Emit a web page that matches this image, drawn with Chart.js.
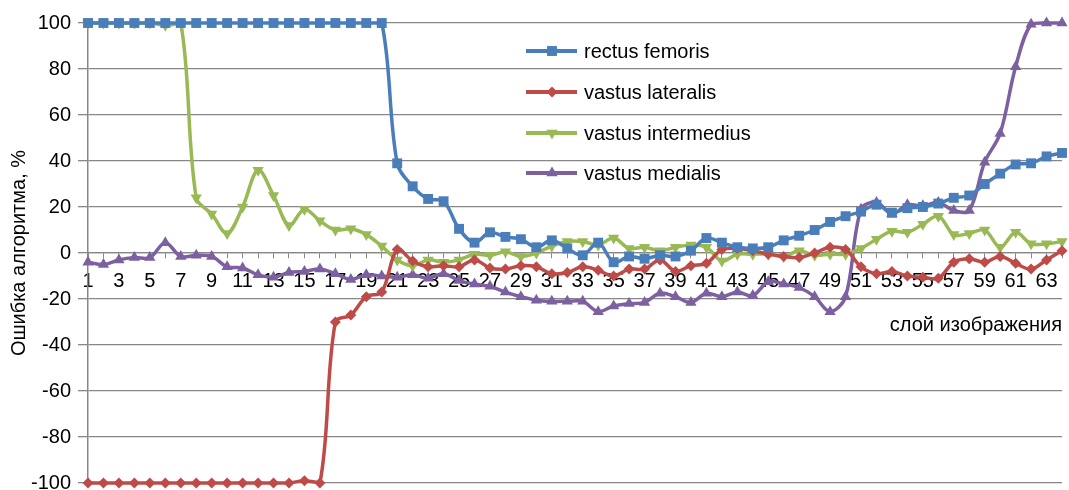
<!DOCTYPE html>
<html>
<head>
<meta charset="utf-8">
<title>Ошибка алгоритма по слоям изображения</title>
<script src="https://cdn.jsdelivr.net/npm/chart.js@4/dist/chart.umd.min.js"></script>
<style>
  html, body { margin: 0; padding: 0; background: #ffffff; }
  #wrap { width: 1069px; height: 490px; position: relative; }
</style>
</head>
<body>
<div id="wrap"><canvas id="chart" width="1069" height="490"></canvas></div>
<script>
// Image layers (slices) 1..64
const layers = [
  1, 2, 3, 4, 5, 6, 7, 8, 9, 10, 11, 12, 13, 14, 15, 16,
  17, 18, 19, 20, 21, 22, 23, 24, 25, 26, 27, 28, 29, 30, 31, 32,
  33, 34, 35, 36, 37, 38, 39, 40, 41, 42, 43, 44, 45, 46, 47, 48,
  49, 50, 51, 52, 53, 54, 55, 56, 57, 58, 59, 60, 61, 62, 63, 64
];

// Segmentation error per layer, %
const rectusFemoris = [
  100, 100, 100, 100, 100, 100, 100, 100, 100, 100, 100, 100, 100, 100, 100, 100,
  100, 100, 100, 100, 39, 29, 23.5, 22.5, 10.5, 4.5, 9, 7, 6, 2.5, 5.5, 2,
  -1, 4.5, -4, -1.5, -2.5, -1, -1.5, 1, 6.5, 4.5, 2.5, 2, 2.5, 5.5, 7.5, 10,
  13.5, 16, 18, 21, 17.5, 19.5, 20, 21.5, 24, 25, 30, 34.5, 38.5, 39, 42, 43.5
];

const vastusLateralis = [
  -100, -100, -100, -100, -100, -100, -100, -100, -100, -100, -100, -100, -100, -100, -99, -100,
  -30, -27, -19, -17, 1.5, -3.5, -6, -5.5, -6, -3, -6.5, -7, -5.5, -6, -9, -8.5,
  -6, -7.5, -10, -7, -7, -3, -8, -5.5, -4.5, 1.5, 2, 1, -0.5, -1.5, -2, 0,
  2.5, 1.5, -6, -9, -8, -10, -10.5, -11, -4, -2.5, -4, -1.5, -4.5, -7, -3, 1
];

const vastusIntermedius = [
  100, 100, 100, 100, 100, 99, 100, 24, 17, 8.5, 20, 36, 25, 12, 19, 14,
  10, 10.5, 8, 3, -3, -5.5, -3, -4, -3, -0.5, -1, 0.5, -1.5, 0, 3, 5,
  5, 3.5, 6.5, 2, 2.5, 1, 2.5, 3.5, 2.5, -3.5, -0.5, -0.5, -0.5, -1.5, 1, -1,
  -0.5, -0.5, 2, 6, 9.5, 9, 12.5, 16, 8, 8.5, 10, 2.5, 9, 4, 4, 5
];

const vastusMedialis = [
  -4, -5, -3, -2, -2, 4.5, -1.5, -1, -1.5, -6, -6.5, -9.5, -10.5, -8.5, -8, -7,
  -9, -11.5, -9.5, -10, -10.5, -9.5, -11, -9, -12, -13.5, -14.5, -17, -19, -20.5, -21, -21,
  -21, -25.5, -23, -22, -21.5, -17.5, -19, -21.5, -17.5, -19, -17, -18.5, -12.5, -13.5, -15, -19,
  -25.5, -19, 19, 22, 17, 21, 20.5, 22, 18.5, 18.5, 39.5, 52, 81, 99.5, 100, 100
];

const seriesNames = ['rectus femoris', 'vastus lateralis', 'vastus intermedius', 'vastus medialis'];
const yTicks = { min: -100, max: 100, step: 20 };

const FONT = "'Liberation Sans', Arial, sans-serif";
const FONT_SIZE = 20;
const GRID = '#878787';

const styles = [
  { color: '#4A7EBB', point: 'rect',     radius: 7,   rotation: 0 },
  { color: '#BE4B48', point: 'rectRot',  radius: 5.5, rotation: 0 },
  { color: '#98B954', point: 'triangle', radius: 6.5, rotation: 180 },
  { color: '#7D60A0', point: 'triangle', radius: 6.5, rotation: 0 }
];

const values = [rectusFemoris, vastusLateralis, vastusIntermedius, vastusMedialis];

const datasets = seriesNames.map((name, i) => ({
  label: name,
  data: values[i],
  borderColor: styles[i].color,
  backgroundColor: styles[i].color,
  borderWidth: 3.5,
  pointStyle: styles[i].point,
  pointRadius: styles[i].radius,
  pointRotation: styles[i].rotation,
  pointBorderWidth: 0,
  pointBackgroundColor: styles[i].color,
  pointHoverRadius: styles[i].radius,
  tension: 0.35,
  clip: false
}));

// Marker shapes for the legend
function drawMarker(ctx, style, x, y) {
  const r = style.radius;
  ctx.save();
  ctx.translate(x, y);
  ctx.rotate(style.rotation * Math.PI / 180);
  ctx.fillStyle = style.color;
  ctx.beginPath();
  if (style.point === 'rect') {
    const s = r * Math.SQRT1_2;
    ctx.rect(-s, -s, 2 * s, 2 * s);
  } else if (style.point === 'rectRot') {
    ctx.moveTo(0, -r); ctx.lineTo(r, 0); ctx.lineTo(0, r); ctx.lineTo(-r, 0);
    ctx.closePath();
  } else {
    for (let k = 0; k < 3; k++) {
      const a = k * 2 * Math.PI / 3;
      const px = Math.sin(a) * r, py = -Math.cos(a) * r;
      if (k === 0) ctx.moveTo(px, py); else ctx.lineTo(px, py);
    }
    ctx.closePath();
  }
  ctx.fill();
  ctx.restore();
}

// Legend drawn inside the plot area, one row per muscle
const innerLegend = {
  id: 'innerLegend',
  afterDatasetsDraw(chart) {
    const ctx = chart.ctx;
    const rows = [51, 92, 133, 173];
    ctx.save();
    chart.data.datasets.forEach((ds, i) => {
      const y = rows[i];
      ctx.strokeStyle = styles[i].color;
      ctx.lineWidth = 4;
      ctx.beginPath();
      ctx.moveTo(526, y);
      ctx.lineTo(577, y);
      ctx.stroke();
      drawMarker(ctx, styles[i], 552, y);
      ctx.fillStyle = '#000000';
      ctx.font = FONT_SIZE + 'px ' + FONT;
      ctx.textAlign = 'left';
      ctx.textBaseline = 'middle';
      ctx.fillText(ds.label, 584, y + 1);
    });
    ctx.restore();
  }
};

new Chart(document.getElementById('chart'), {
  type: 'line',
  data: { labels: layers, datasets },
  options: {
    responsive: false,
    animation: false,
    events: [],
    layout: { padding: { top: 23, bottom: 7, left: 0, right: 1 } },
    plugins: {
      legend: { display: false },
      tooltip: { enabled: false }
    },
    scales: {
      x: {
        position: { y: 0 },
        offset: false,
        grid: {
          drawOnChartArea: false,
          drawTicks: true,
          tickLength: 5,
          color: GRID,
          lineWidth: 1
        },
        border: { display: true, color: GRID, width: 1.3 },
        ticks: {
          autoSkip: false,
          maxRotation: 0,
          minRotation: 0,
          padding: 11,
          color: '#000000',
          font: { family: FONT, size: FONT_SIZE },
          callback: function (value, index) {
            return index % 2 === 0 ? String(this.getLabelForValue(value)) : '';
          }
        },
        title: {
          display: true,
          text: 'слой изображения',
          align: 'end',
          color: '#000000',
          font: { family: FONT, size: FONT_SIZE },
          padding: { top: 9, bottom: 0 }
        },
        afterFit(scale) {
          scale.paddingLeft = 0;
          scale.paddingRight = 0;
          scale.paddingTop = 0;
          scale.paddingBottom = 0;
        }
      },
      y: {
        min: yTicks.min,
        max: yTicks.max,
        grid: {
          color: GRID,
          lineWidth: 1.3,
          tickLength: 10
        },
        border: { display: true, color: GRID, width: 1.5 },
        ticks: {
          stepSize: yTicks.step,
          padding: 7,
          color: '#000000',
          font: { family: FONT, size: FONT_SIZE }
        },
        title: {
          display: true,
          text: 'Ошибка алгоритма, %',
          color: '#000000',
          font: { family: FONT, size: FONT_SIZE },
          padding: { top: 7, bottom: 0 }
        },
        afterFit(scale) {
          scale.width = 88;
          scale.paddingTop = 0;
          scale.paddingBottom = 0;
        }
      }
    }
  },
  plugins: [innerLegend]
});
</script>
</body>
</html>
